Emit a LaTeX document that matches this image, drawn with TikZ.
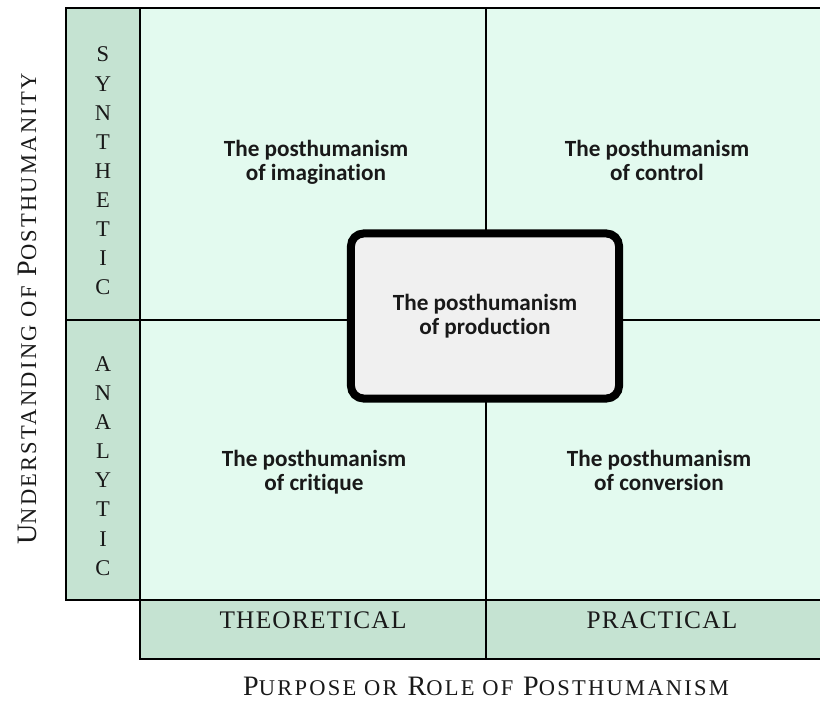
\documentclass[tikz,border=0pt]{standalone}
\usepackage{fontspec}
\newfontfamily\cellfont[Ligatures={NoCommon,NoContextual}]{Carlito}
\newfontfamily\capsfont[LetterSpace=5]{Liberation Serif}
\newfontfamily\headfont[LetterSpace=10]{Liberation Serif}
\newcommand{\lowcap}[1]{{\fontsize{16}{18}\selectfont #1}}
\usepackage{tikz}
\definecolor{mint}{RGB}{227,250,239}
\definecolor{sage}{RGB}{197,227,210}
\definecolor{paper}{RGB}{240,240,240}
\tikzstyle{cell}=[font=\cellfont\bfseries\fontsize{16.5}{17}\selectfont, align=center, text=black!90]
\tikzstyle{axis}=[font=\capsfont\fontsize{18}{20}\selectfont, text=black!90]
\tikzstyle{stack}=[font=\capsfont\fontsize{16}{20.7}\selectfont, align=center, text=black!90]
\tikzstyle{heading}=[font=\headfont\fontsize{20}{22}\selectfont, text=black!90]
\tikzstyle{core}=[draw=black, fill=paper, line width=5.7pt, rounded corners=9pt, minimum width=6.7cm, minimum height=4.125cm]

\begin{document}
\begin{tikzpicture}[x=0.025cm, y=-0.025cm]
    \useasboundingbox (0,0) rectangle (820,702);

    % background
    \fill[mint] (140,8) rectangle (820,600);
    \fill[sage] (66,8) rectangle (140,600);
    \fill[sage] (140,600) rectangle (820,659);

    % grid
    \draw[line width=1.8pt] (820,8) -- (66,8) -- (66,600) -- (140,600);
    \draw[line width=1.3pt] (140,8) -- (140,659) -- (820,659);
    \draw[line width=1.3pt] (66,320) -- (820,320);
    \draw[line width=1.3pt] (140,600) -- (820,600);
    \draw[line width=1.3pt] (486,8) -- (486,659);

    \node[stack] (synthetic) at (103,171) {S\\Y\\N\\T\\H\\E\\T\\I\\C};
    \node[stack] (analytic) at (103,466) {A\\N\\A\\L\\Y\\T\\I\\C};
    \node[axis] (theoretical) at (313,620) {THEORETICAL};
    \node[axis] (practical) at (662,620) {PRACTICAL};

    \node[cell] (imagination) at (316,162) {The posthumanism\\of imagination};
    \node[cell] (control) at (657,160) {The posthumanism\\of control};
    \node[cell] (critique) at (314,472) {The posthumanism\\of critique};
    \node[cell] (conversion) at (659,470) {The posthumanism\\of conversion};
    \node[core, cell] (production) at (485,316) {The posthumanism\\of production};

    \node[heading] (purpose) at (486,686) {P\lowcap{URPOSE OR} R\lowcap{OLE OF} P\lowcap{OSTHUMANISM}};
    \node[heading, rotate=90] (understanding) at (27,309) {U\lowcap{NDERSTANDING OF} P\lowcap{OSTHUMANITY}};
\end{tikzpicture}
\end{document}
